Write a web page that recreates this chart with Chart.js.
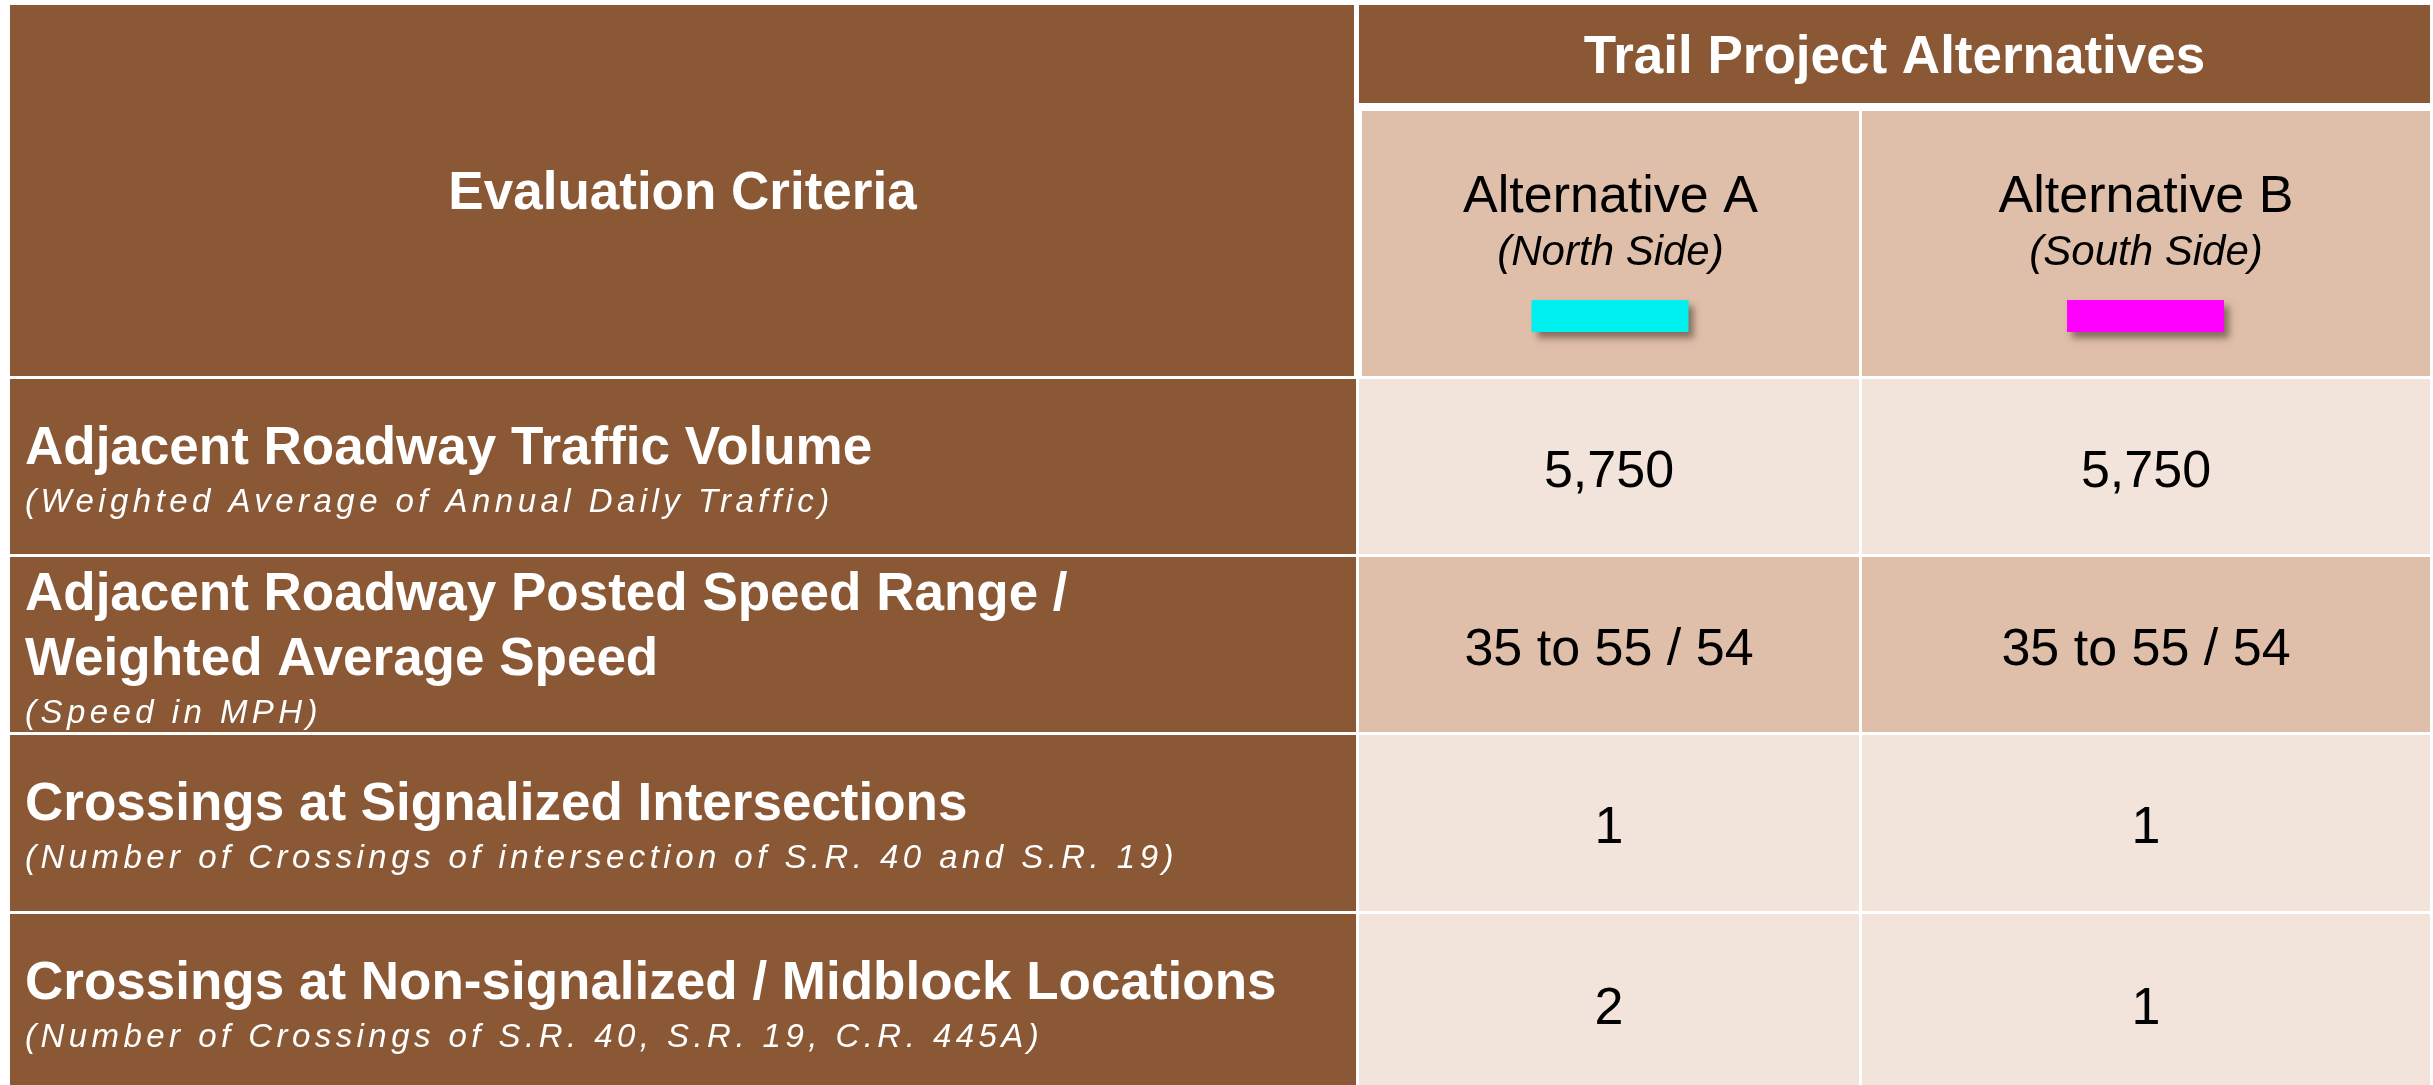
<!DOCTYPE html>
<html>
<head>
<meta charset="utf-8">
<title>Trail Project Alternatives</title>
<script src="https://cdn.jsdelivr.net/npm/chart.js@4.4.1/dist/chart.umd.min.js"></script>
<style>
  html, body { margin: 0; padding: 0; background: #fff; }
  canvas { display: block; }
</style>
</head>
<body>
<canvas id="table-chart" width="2433" height="1085"></canvas>
<script>
// table content
const headerTitle = 'Evaluation Criteria'
const groupTitle = 'Trail Project Alternatives'
const alternatives = ['Alternative A', 'Alternative B']
const sides = ['(North Side)', '(South Side)']
const criteria = [
  ['Adjacent Roadway Traffic Volume'],
  ['Adjacent Roadway Posted Speed Range /', 'Weighted Average Speed'],
  ['Crossings at Signalized Intersections'],
  ['Crossings at Non-signalized / Midblock Locations']
]
const criteriaNotes = [
  '(Weighted Average of Annual Daily Traffic)',
  '(Speed in MPH)',
  '(Number of Crossings of intersection of S.R. 40 and S.R. 19)',
  '(Number of Crossings of S.R. 40, S.R. 19, C.R. 445A)'
]
const altAValues = ['5,750', '35 to 55 / 54', '1', '2']
const altBValues = ['5,750', '35 to 55 / 54', '1', '1']

// layout, in table units (x: 0-2433, y: 0-1085)
const colEdges = [[10, 1355], [1359, 1859], [1862, 2430]]
const headerRows = { top: 5, split: 103, altTop: 111, bottom: 376 }
const rowEdges = [[379, 554], [557, 732], [735, 911], [914, 1094]]

const brown = '#8B5836'
const tan = '#DFBFA9'
const light = '#F2E4DB'
const rowFills = [light, tan, light, light]
const swatchColors = ['#00F0F0', '#FF00FF']
const FONT = '"Liberation Sans", Arial, sans-serif'

const tablePlugin = {
  id: 'tableCells',
  afterDraw(chart) {
    const c = chart.ctx
    const sx = chart.scales.x, sy = chart.scales.y
    const X = v => sx.getPixelForValue(v)
    const Y = v => sy.getPixelForValue(v)

    function cell(x0, y0, x1, y1, fill) {
      c.fillStyle = fill
      c.fillRect(X(x0), Y(y0), X(x1) - X(x0), Y(y1) - Y(y0))
    }
    function text(str, x, y, font, color, align, spacing) {
      c.font = font
      c.fillStyle = color
      c.textAlign = align || 'center'
      c.textBaseline = 'alphabetic'
      c.letterSpacing = spacing || '0px'
      c.fillText(str, X(x), Y(y))
      c.letterSpacing = '0px'
    }

    c.save()

    // header block
    cell(colEdges[0][0], headerRows.top, colEdges[0][1] - 1, headerRows.bottom, brown)
    cell(colEdges[1][0], headerRows.top, colEdges[2][1], headerRows.split, brown)
    text(headerTitle, (colEdges[0][0] + colEdges[0][1]) / 2, 209, 'bold 53px ' + FONT, '#fff')
    text(groupTitle, (colEdges[1][0] + colEdges[2][1]) / 2, 73, 'bold 53px ' + FONT, '#fff')

    alternatives.forEach((alt, i) => {
      const col = colEdges[i + 1]
      const x0 = i == 0 ? col[0] + 3 : col[0]
      cell(x0, headerRows.altTop, col[1], headerRows.bottom, tan)
      const cx = (x0 + col[1]) / 2
      text(alt, cx, 212, '52px ' + FONT, '#000')
      text(sides[i], cx, 265, 'italic 42px ' + FONT, '#000')

      // colour key with drop shadow
      c.save()
      c.shadowColor = 'rgba(60,40,30,0.55)'
      c.shadowBlur = 7
      c.shadowOffsetX = 5
      c.shadowOffsetY = 6
      cell(cx - 79, 300, cx + 78, 332, swatchColors[i])
      c.restore()
    })

    // body rows
    criteria.forEach((lines, r) => {
      const [top, bottom] = rowEdges[r]
      cell(colEdges[0][0], top, colEdges[0][1] + 1, bottom, brown)
      cell(colEdges[1][0], top, colEdges[1][1], bottom, rowFills[r])
      cell(colEdges[2][0], top, colEdges[2][1], bottom, rowFills[r])

      // criteria text, block centred a bit below the row middle
      const blockH = 38 + 65 * (lines.length - 1) + 48
      let base = top + 90 - blockH / 2 + 38
      lines.forEach((ln, k) => {
        text(ln, 25, base + 65 * k, 'bold 53px ' + FONT, '#fff', 'left')
      })
      text(criteriaNotes[r], 25, base + 65 * (lines.length - 1) + 48,
        'italic 33px ' + FONT, '#fff', 'left', '4.45px')

      const mid = (top + bottom) / 2 + 20
      text(altAValues[r], (colEdges[1][0] + colEdges[1][1]) / 2, mid, '52px ' + FONT, '#000')
      text(altBValues[r], (colEdges[2][0] + colEdges[2][1]) / 2, mid, '52px ' + FONT, '#000')
    })

    c.restore()
  }
}

let tableChart = new Chart(document.getElementById('table-chart').getContext('2d'), {
  type: 'scatter',
  data: { datasets: [] },
  options: {
    responsive: false,
    animation: false,
    events: [],
    layout: { padding: 0 },
    plugins: { legend: { display: false }, tooltip: { enabled: false } },
    scales: {
      x: { type: 'linear', min: 0, max: 2433, display: false },
      y: { type: 'linear', min: 0, max: 1085, reverse: true, display: false }
    }
  },
  plugins: [tablePlugin]
})
</script>
</body>
</html>
